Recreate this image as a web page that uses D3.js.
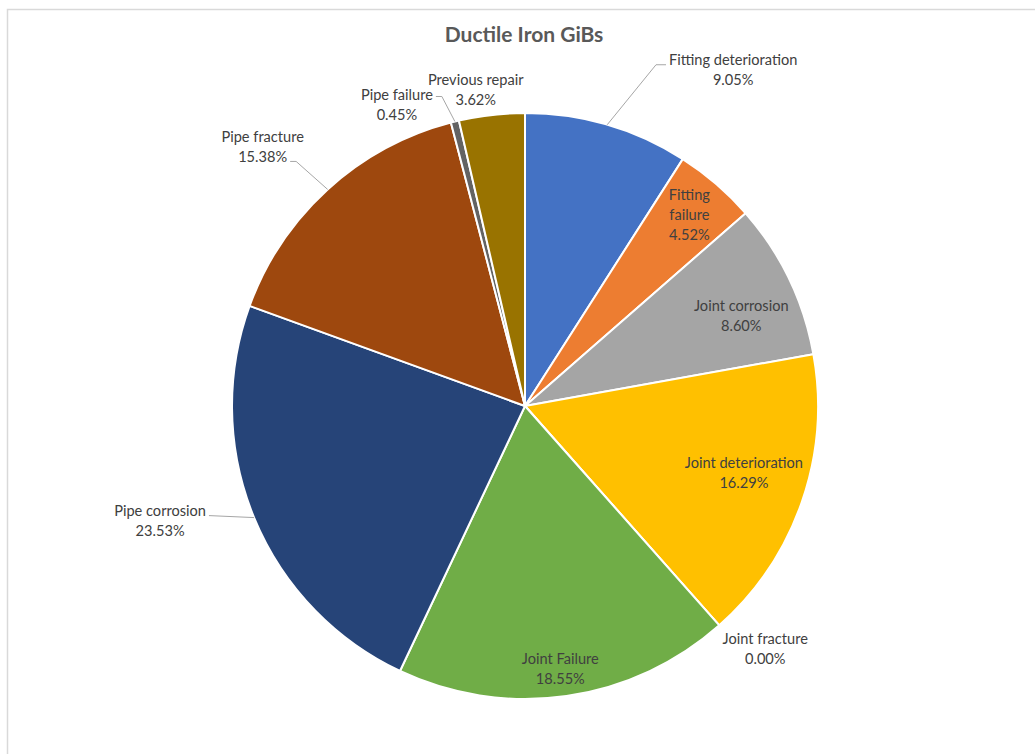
<!DOCTYPE html>
<html>
<head>
<meta charset="utf-8">
<script src="https://cdn.jsdelivr.net/npm/d3@7"></script>
<style>
  html, body { margin: 0; padding: 0; background: #fff; }
  svg { display: block; }
</style>
</head>
<body>
<svg id="chart" width="1035" height="754"></svg>
<script>
// Failure causes, clockwise from 12 o'clock
const categories = [
  "Fitting deterioration", "Fitting failure", "Joint corrosion", "Joint deterioration",
  "Joint fracture", "Joint Failure", "Pipe corrosion", "Pipe fracture",
  "Pipe failure", "Previous repair"
];
const shares = [9.05, 4.52, 8.60, 16.29, 0.00, 18.55, 23.53, 15.38, 0.45, 3.62];
const sliceColors = [
  "#4472C4", "#ED7D31", "#A5A5A5", "#FFC000", "#5B9BD5",
  "#70AD47", "#264478", "#9E480E", "#636363", "#997300"
];
const chartTitle = "Ductile Iron GiBs";

// Label placement: inside labels sit at a fraction of the radius along the mid-angle;
// outside labels sit beyond the rim, optionally joined to it by a leader line.
// ly = leader's end height relative to the label's centre.
const labelLayout = [
  { mode: "out", k: 1.0, dx: 126, dy: -55, leader: "right", ly: -5 },
  { mode: "in",  k: 0.86, dx: 0, dy: 0, wrap: ["Fitting", "failure"] },
  { mode: "in",  k: 0.8,  dx: 5, dy: 11 },
  { mode: "in",  k: 0.78, dx: 3, dy: -8 },
  { mode: "out", k: 1.0, dx: 46, dy: 24, leader: null },
  { mode: "in",  k: 0.9,  dx: -2, dy: 2 },
  { mode: "out", k: 1.0, dx: -94, dy: 3, leader: "left", ly: -5, straight: true },
  { mode: "out", k: 1.0, dx: -65, dy: -43, leader: "left", ly: 15 },
  { mode: "out", k: 1.0, dx: -58, dy: -17, leader: "left", ly: -8 },
  { mode: "out", k: 1.0, dx: -16, dy: -25, leader: null }
];

const W = 1035, H = 754;
const cx = 525, cy = 406, R = 293;
const fontFam = "Lato, 'Open Sans', sans-serif";
const labelSize = 14.6;
const lineGap = 20;

const svg = d3.select("#chart");

// Chart area frame
svg.append("rect")
  .attr("x", 7.5).attr("y", 9.5)
  .attr("width", W + 20).attr("height", H + 20)
  .attr("fill", "#fff")
  .attr("stroke", "#D9D9D9").attr("stroke-width", 1.5);

svg.append("text")
  .attr("x", 524).attr("y", 42)
  .attr("text-anchor", "middle")
  .attr("font-family", fontFam)
  .attr("font-weight", "bold")
  .attr("font-size", 21)
  .attr("fill", "#595959")
  .text(chartTitle);

const data = categories.map((c, i) => ({ name: c, value: shares[i], color: sliceColors[i], layout: labelLayout[i] }));

const pie = d3.pie().sort(null).value(d => d.value);
const arcs = pie(data);
const arc = d3.arc().innerRadius(0).outerRadius(R);

const g = svg.append("g").attr("transform", `translate(${cx},${cy})`);

g.selectAll("path.slice")
  .data(arcs)
  .join("path")
  .attr("class", "slice")
  .attr("d", arc)
  .attr("fill", d => d.data.color)
  .attr("stroke", "#fff")
  .attr("stroke-width", 2)
  .attr("stroke-linejoin", "round");

const fmt = v => v.toFixed(2) + "%";

arcs.forEach(a => {
  const L = a.data.layout;
  const mid = (a.startAngle + a.endAngle) / 2;
  const ux = Math.sin(mid), uy = -Math.cos(mid);
  const rim = [ux * R, uy * R];
  const tx = ux * R * L.k + L.dx;
  const ty = uy * R * L.k + L.dy;
  const lines = (L.wrap ? L.wrap : [a.data.name]).concat([fmt(a.data.value)]);
  const startY = ty - (lines.length - 1) * lineGap / 2;

  const t = g.append("text")
    .attr("text-anchor", "middle")
    .attr("font-family", fontFam)
    .attr("font-size", labelSize)
    .attr("fill", "#404040");
  const spans = lines.map((s, j) => t.append("tspan")
    .attr("x", tx)
    .attr("y", startY + j * lineGap)
    .attr("dy", "0.35em")
    .text(s));

  if (L.mode === "out" && L.leader) {
    const ly = ty + L.ly;
    // the leader meets the text line nearest to its end height
    const near = ly < ty ? 0 : spans.length - 1;
    const halfW = spans[near].node().getComputedTextLength() / 2;
    let pts;
    if (L.leader === "right") {
      const ex = tx - halfW - 3;
      pts = [rim, [ex - 10, ly], [ex, ly]];
    } else {
      const ex = tx + halfW + 3;
      pts = L.straight ? [rim, [ex, ly]] : [rim, [ex + 6, ly], [ex, ly]];
    }
    g.insert("path", "text")
      .attr("d", d3.line()(pts))
      .attr("fill", "none")
      .attr("stroke", "#A6A6A6")
      .attr("stroke-width", 1);
  }
});
</script>
</body>
</html>
